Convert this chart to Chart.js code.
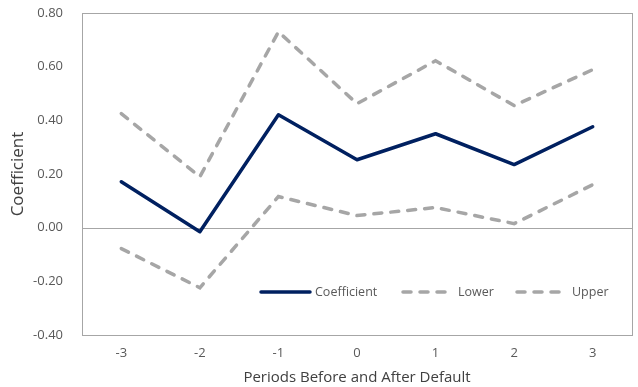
<!DOCTYPE html>
<html><head><meta charset="utf-8">
<script src="https://cdn.jsdelivr.net/npm/chart.js@4.4.1/dist/chart.umd.min.js"></script>
<style>html,body{margin:0;padding:0;background:#fff}#wrap{width:638px;height:387px}</style>
</head><body><div id="wrap"><canvas id="c" width="638" height="387"></canvas></div>
<script>
const periods = ['-3','-2','-1','0','1','2','3'];
const coefficient = [0.171, -0.015, 0.421, 0.253, 0.350, 0.235, 0.376];
const lower = [-0.078, -0.224, 0.116, 0.045, 0.075, 0.015, 0.160];
const upper = [0.425, 0.190, 0.730, 0.462, 0.622, 0.455, 0.589];
const yTicks = [-0.4, -0.2, 0, 0.2, 0.4, 0.6, 0.8];

const FONT = '"Open Sans", "Noto Sans", sans-serif';
const NAVY = '#002060', GRAY = '#a6a6a6', AX = '#a6a6a6';

const framePlugin = {
  id: 'frame',
  beforeDatasetsDraw(chart) {
    const {ctx, chartArea: a, scales: {y}} = chart;
    ctx.save();
    ctx.strokeStyle = AX; ctx.lineWidth = 1;
    ctx.strokeRect(Math.round(a.left) + 0.5, Math.round(a.top) + 0.5, Math.round(a.right - a.left), Math.round(a.bottom - a.top));
    const y0 = Math.round(y.getPixelForValue(0)) + 0.5;
    ctx.beginPath(); ctx.moveTo(a.left, y0); ctx.lineTo(a.right, y0); ctx.stroke();
    ctx.restore();
  },
  afterDatasetsDraw(chart) {
    const {ctx} = chart;
    const items = [
      {ds: 0, x: 261, tx: 315},
      {ds: 1, x: 403, tx: 458},
      {ds: 2, x: 517, tx: 572}
    ];
    const ly = 292;
    ctx.save();
    items.forEach(it => {
      const d = chart.data.datasets[it.ds];
      ctx.strokeStyle = d.borderColor; ctx.lineWidth = d.borderWidth;
      ctx.lineCap = 'round';
      ctx.setLineDash(d.borderDash || []);
      ctx.beginPath(); ctx.moveTo(it.x, ly); ctx.lineTo(it.x + (it.ds === 0 ? 49 : 45), ly); ctx.stroke();
      ctx.setLineDash([]);
      ctx.fillStyle = '#595959'; ctx.font = '12.5px ' + FONT; ctx.textBaseline = 'middle';
      ctx.fillText(d.label, it.tx, ly);
    });
    ctx.restore();
  }
};

new Chart(document.getElementById('c'), {
  type: 'line',
  data: {
    labels: periods,
    datasets: [
      {label: 'Coefficient', data: coefficient, borderColor: NAVY, borderWidth: 3.5, pointRadius: 0, tension: 0, borderCapStyle: 'round', borderJoinStyle: 'round'},
      {label: 'Lower', data: lower, borderColor: GRAY, borderWidth: 3.5, borderDash: [8, 9], borderCapStyle: 'round', pointRadius: 0, tension: 0},
      {label: 'Upper', data: upper, borderColor: GRAY, borderWidth: 3.5, borderDash: [8, 9], borderCapStyle: 'round', pointRadius: 0, tension: 0}
    ]
  },
  options: {
    responsive: false, animation: false,
    layout: {padding: {left: 0, right: 6, top: 13, bottom: 0}},
    plugins: {legend: {display: false}, tooltip: {enabled: false}},
    scales: {
      x: {
        offset: true,
        grid: {display: false, drawTicks: false},
        border: {display: false},
        ticks: {color: '#595959', font: {family: FONT, size: 13}, padding: 10},
        title: {display: true, text: 'Periods Before and After Default', color: '#404040', font: {family: FONT, size: 15}, padding: {top: 1, bottom: 0}},
        afterFit(s) { s.height = 52; }
      },
      y: {
        min: -0.4, max: 0.8,
        afterBuildTicks(s) { s.ticks = yTicks.map(v => ({value: v})); },
        grid: {display: false, drawTicks: false},
        border: {display: false},
        ticks: {color: '#595959', font: {family: FONT, size: 13}, padding: 19, callback: v => Number(v).toFixed(2)},
        title: {display: true, text: 'Coefficient', color: '#404040', font: {family: FONT, size: 17}, padding: {top: 8, bottom: 6}},
        afterFit(s) { s.width = 82; s.paddingTop = 0; s.paddingBottom = 0; }
      }
    }
  },
  plugins: [framePlugin]
});
</script></body></html>
